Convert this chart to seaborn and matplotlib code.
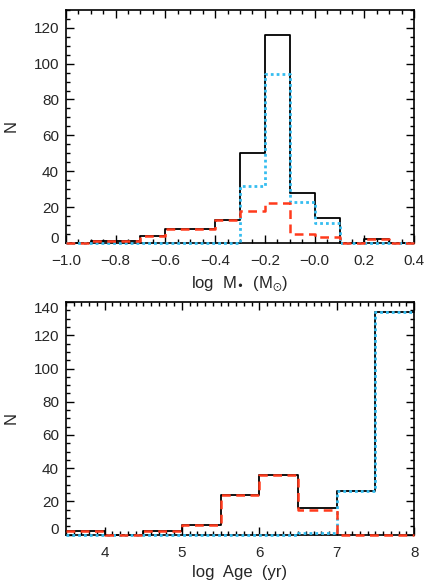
import numpy as np
import pandas as pd
import matplotlib
matplotlib.use("Agg")
import matplotlib.pyplot as plt
import matplotlib.transforms as mtrans
import seaborn as sns
from matplotlib.ticker import MultipleLocator

# top panel: log stellar mass, bins of 0.1 dex
mass_edges = [-1.0, -0.9, -0.8, -0.7, -0.6, -0.5, -0.4, -0.3, -0.2, -0.1, 0.0, 0.1, 0.2, 0.3, 0.4]
mass_all = [0, 1, 1, 4, 8, 8, 13, 50, 116, 28, 14, 0, 2, 0]
mass_old = [0, 0, 0, 0, 0, 0, 0, 32, 94, 23, 11, 0, 0, 0]
mass_young = [0, 1, 1, 4, 8, 8, 13, 18, 22, 5, 3, 0, 2, 0]

# bottom panel: log age, bins of 0.5 dex
age_edges = [3.5, 4.0, 4.5, 5.0, 5.5, 6.0, 6.5, 7.0, 7.5, 8.0]
age_all = [2, 0, 2, 6, 24, 36, 16, 26, 134]
age_old = [0, 0, 0, 0, 0, 0, 1, 26, 134]
age_young = [2, 0, 2, 6, 24, 36, 15, 0, 0]

sns.set_style("ticks")
plt.rcParams['font.family'] = ['Liberation Sans', 'DejaVu Sans']
plt.rcParams['mathtext.default'] = 'regular'
plt.rcParams['axes.unicode_minus'] = True

black = "black"
cyan = "#35bdf0"
red = "#ff3a1c"

fig = plt.figure(figsize=(4.36, 5.81), dpi=100)
ax1 = fig.add_axes([0.151, 0.582, 0.799, 0.401])
ax2 = fig.add_axes([0.151, 0.080, 0.799, 0.400])


def draw(ax, edges, series):
    e = np.array(edges)
    centers = (e[:-1] + e[1:]) / 2
    for counts, color, ls, lw in series:
        df = pd.DataFrame({"x": centers, "n": counts})
        sns.histplot(data=df, x="x", weights="n", bins=list(edges), element="step",
                     fill=False, color=color, linestyle=ls, linewidth=lw, ax=ax,
                     zorder=3, clip_on=False)


draw(ax1, mass_edges, [
    (mass_all, black, "-", 1.3),
    (mass_old, cyan, (0, (1, 1.1)), 2.0),
    (mass_young, red, (0, (3.5, 2.2)), 1.8),
])
draw(ax2, age_edges, [
    (age_all, black, "-", 1.3),
    (age_old, cyan, (0, (1, 1.1)), 2.0),
    (age_young, red, (0, (3.5, 2.2)), 1.8),
])

ax1.set_xlim(-1.0, 0.4)
ax1.set_ylim(0, 130)
ax1.xaxis.set_minor_locator(MultipleLocator(0.05))
ax1.yaxis.set_major_locator(MultipleLocator(20))
ax1.yaxis.set_minor_locator(MultipleLocator(5))
xt = np.round(np.arange(-1.0, 0.41, 0.2), 1)
ax1.set_xticks(xt)
ax1.set_xticklabels([f"{v:.1f}".replace("-", "\u2212") for v in xt])
ax1.set_xlabel("log  M$_{\u2022}$  (M$_{\\odot}$)", fontsize=12, labelpad=5)
ax1.set_ylabel("N", fontsize=12)

ax2.set_xlim(3.5, 8.0)
ax2.set_ylim(0, 140)
ax2.xaxis.set_major_locator(MultipleLocator(1))
ax2.xaxis.set_minor_locator(MultipleLocator(0.1))
ax2.yaxis.set_major_locator(MultipleLocator(20))
ax2.yaxis.set_minor_locator(MultipleLocator(5))
ax2.set_xlabel("log  Age  (yr)", fontsize=12, labelpad=4)
ax2.set_ylabel("N", fontsize=12)

for ax in (ax1, ax2):
    ax.tick_params(which="both", direction="in", top=True, right=True,
                   labelsize=11, width=1, color="black")
    ax.tick_params(axis="x", pad=8)
    ax.tick_params(axis="y", pad=5)
    ax.tick_params(which="major", length=6)
    ax.tick_params(which="minor", length=3)
    ax.yaxis.set_label_coords(-0.135, 0.5)
    for sp in ax.spines.values():
        sp.set_linewidth(1.2)
        sp.set_color("black")

# IDL nudges the end labels to keep them inside the frame
fig.canvas.draw()
up = mtrans.ScaledTranslation(0, 4 / 72, fig.dpi_scale_trans)
down = mtrans.ScaledTranslation(0, -4 / 72, fig.dpi_scale_trans)
for ax, top_val in ((ax1, None), (ax2, "140")):
    for lab in ax.get_yticklabels():
        if lab.get_text() == "0":
            lab.set_transform(lab.get_transform() + up)
        elif lab.get_text() == top_val:
            lab.set_transform(lab.get_transform() + down)

fig.savefig("out.png", dpi=100)
